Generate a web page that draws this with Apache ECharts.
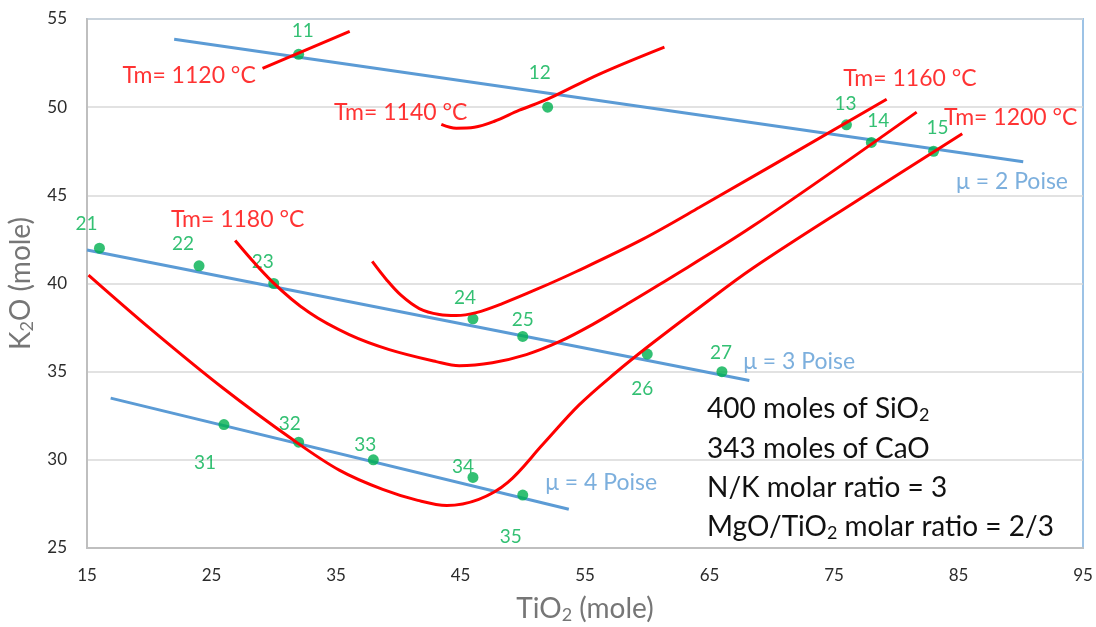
<!DOCTYPE html>
<html>
<head>
<meta charset="utf-8">
<script src="https://cdn.jsdelivr.net/npm/echarts@6/dist/echarts.min.js"></script>
<style>
  html, body {margin: 0; padding: 0; background: #fff}
  #chart {width: 1096px; height: 627px}
</style>
</head>
<body>
<div id="chart"></div>
<script>
// sample glasses: TiO2 / K2O in moles
var pointNames = ['11', '12', '13', '14', '15', '21', '22', '23', '24', '25', '26', '27', '31', '32', '33', '34', '35']
var pointTiO2 = [32, 52, 76, 78, 83, 16, 24, 30, 46, 50, 60, 66, 26, 32, 38, 46, 50]
var pointK2O = [53, 50, 49, 48, 47.5, 42, 41, 40, 38, 37, 36, 35, 32, 31, 30, 29, 28]

// iso-viscosity lines [TiO2, K2O]
var mu2 = [[22, 53.85], [90.2, 46.9]]
var mu3 = [[15, 41.9], [68.2, 34.5]]
var mu4 = [[16.9, 33.5], [53.7, 27.2]]

// liquidus (Tm) curves [TiO2, K2O]
var tm1120 = [[29.1, 52.2], [36.1, 54.3]]
var tm1140 = [[43.46, 49.03], [44.66, 48.81], [46.11, 48.86], [47.72, 49.2], [49.73, 49.83], [51.98, 50.45], [56.16, 51.88], [61.38, 53.41]]
var tm1160 = [[37.91, 41.25], [39.04, 40.23], [40.24, 39.32], [41.69, 38.58], [43.3, 38.24], [44.66, 38.18], [46.27, 38.35], [48.36, 38.86], [51.09, 39.66], [54.31, 40.68], [59.61, 42.5], [64.2, 44.32], [79.23, 50.45]]
var tm1180 = [[26.9, 42.44], [29.87, 40.11], [32.85, 38.35], [36.06, 37.1], [39.28, 36.25], [43.05, 35.57], [44.9, 35.34], [47.56, 35.51], [50.29, 35.97], [52.94, 36.7], [55.59, 37.67], [58.33, 38.81], [60.98, 39.94], [68.46, 43.24], [81.64, 49.72]]
var tm1200 = [[15.12, 40.48], [20.1, 37.43], [25.89, 34.09], [31.6, 31.11], [35.3, 29.4], [38.75, 28.32], [41.57, 27.7], [43.9, 27.41], [46.47, 27.76], [48.8, 28.72], [51.62, 30.88], [54.51, 33.1], [57.41, 34.91], [60.22, 36.51], [64.24, 38.67], [68.5, 40.88], [76.94, 44.74], [85.3, 48.49]]

var xTicks = {min: 15, max: 95, interval: 10}
var yTicks = {min: 25, max: 55, interval: 5}

var FONT = 'Lato'
var RED = '#ff0000'
var BLUE = '#5b9bd5'
var GREEN = '#00b050'
var TITLE = '#767676'

// label offsets of the point numbers (px from dot centre)
var labelOffset = {
  '11': [4, -23], '12': [-8, -34], '13': [-1, -21], '14': [7, -22], '15': [4, -23],
  '21': [-13, -24], '22': [-16, -22], '23': [-11, -22], '24': [-8, -21], '25': [0, -17],
  '26': [-5, 35], '27': [-1, -19],
  '31': [-19, 38], '32': [-9, -18], '33': [-8, -15], '34': [-10, -11], '35': [-12, 42]
}

var points = pointNames.map(function (n, i) {
  return {
    name: n,
    value: [pointTiO2[i], pointK2O[i]],
    label: {offset: labelOffset[n]}
  }
})

function lineSeries (data, color, smooth) {
  return {
    type: 'line',
    data: data,
    smooth: smooth,
    symbol: 'none',
    silent: true,
    lineStyle: {color: color, width: 3},
    z: color === RED ? 4 : 2
  }
}

function note (x, y, text, color) {
  return {value: [x, y], name: text, label: {color: color}}
}

var titleRich = {
  a: {fontSize: 28, color: TITLE, fontFamily: FONT},
  s: {fontSize: 18, color: TITLE, fontFamily: FONT, verticalAlign: 'bottom', padding: [12, 0, 0, 0]}
}

var option = {
  backgroundColor: '#fff',
  animation: false,
  textStyle: {fontFamily: FONT},
  grid: {
    left: 87,
    right: 13,
    top: 19,
    bottom: 79,
    outerBoundsMode: 'none',
    containLabel: false,
    show: true,
    borderColor: '#9dc3e6',
    borderWidth: 2
  },
  xAxis: {
    type: 'value',
    min: xTicks.min,
    max: xTicks.max,
    interval: xTicks.interval,
    axisLine: {show: true, onZero: false, lineStyle: {color: '#bfbfbf', width: 2}},
    axisTick: {show: false},
    splitLine: {show: false},
    axisLabel: {color: '#2b2b2b', fontSize: 17, margin: 19, fontFamily: FONT},
    name: '{a|TiO}{s|2}{a| (mole)}',
    nameLocation: 'middle',
    nameGap: 46,
    nameTextStyle: {rich: titleRich}
  },
  yAxis: {
    type: 'value',
    min: yTicks.min,
    max: yTicks.max,
    interval: yTicks.interval,
    axisLine: {show: true, lineStyle: {color: '#bfbfbf', width: 2}},
    axisTick: {show: false},
    splitLine: {lineStyle: {color: '#d9d9d9', width: 1.5}},
    axisLabel: {color: '#2b2b2b', fontSize: 17, margin: 20, fontFamily: FONT},
    name: '{a|K}{s|2}{a|O (mole)}',
    nameLocation: 'middle',
    nameGap: 45,
    nameRotate: 90,
    nameTextStyle: {rich: titleRich}
  },
  series: [
    lineSeries(mu2, BLUE, false),
    lineSeries(mu3, BLUE, false),
    lineSeries(mu4, BLUE, false),
    {
      type: 'scatter',
      data: points,
      symbolSize: 11,
      itemStyle: {color: GREEN},
      z: 3,
      label: {
        show: true,
        position: 'inside',
        formatter: '{b}',
        color: GREEN,
        fontSize: 19,
        fontFamily: FONT
      }
    },
    lineSeries(tm1120, RED, false),
    lineSeries(tm1140, RED, 0.35),
    lineSeries(tm1160, RED, 0.35),
    lineSeries(tm1180, RED, 0.35),
    lineSeries(tm1200, RED, 0.35),
    {
      // curve and line captions
      type: 'scatter',
      symbolSize: 0,
      silent: true,
      z: 5,
      label: {show: true, position: 'inside', formatter: '{b}', fontSize: 23, fontFamily: FONT},
      data: [
        note(23.2, 51.8, 'Tm= 1120 °C', RED),
        note(40.2, 49.7, 'Tm= 1140 °C', RED),
        note(81.1, 51.6, 'Tm= 1160 °C', RED),
        note(89.2, 49.4, 'Tm= 1200 °C', RED),
        note(27.1, 43.6, 'Tm= 1180 °C', RED),
        note(89.3, 45.8, 'μ = 2 Poise', BLUE),
        note(72.2, 35.6, 'μ = 3 Poise', BLUE),
        note(56.3, 28.7, 'μ = 4 Poise', BLUE)
      ]
    }
  ],
  graphic: [
    ['{a|400 moles of SiO}{s|2}', 395],
    ['{a|343 moles of CaO}', 435],
    ['{a|N/K molar ratio = 3}', 474],
    ['{a|MgO/TiO}{s|2}{a| molar ratio = 2/3}', 513]
  ].map(function (l) {
    return {
      type: 'text',
      left: 707,
      top: l[1],
      z: 10,
      style: {
        text: l[0],
        rich: {
          a: {fontSize: 28, fill: '#111', fontFamily: FONT, lineHeight: 30},
          s: {fontSize: 18, fill: '#111', fontFamily: FONT, lineHeight: 30, verticalAlign: 'bottom', padding: [10, 0, 0, 0]}
        }
      }
    }
  })
}

var chart = echarts.init(document.getElementById('chart'))
chart.setOption(option)
</script>
</body>
</html>
